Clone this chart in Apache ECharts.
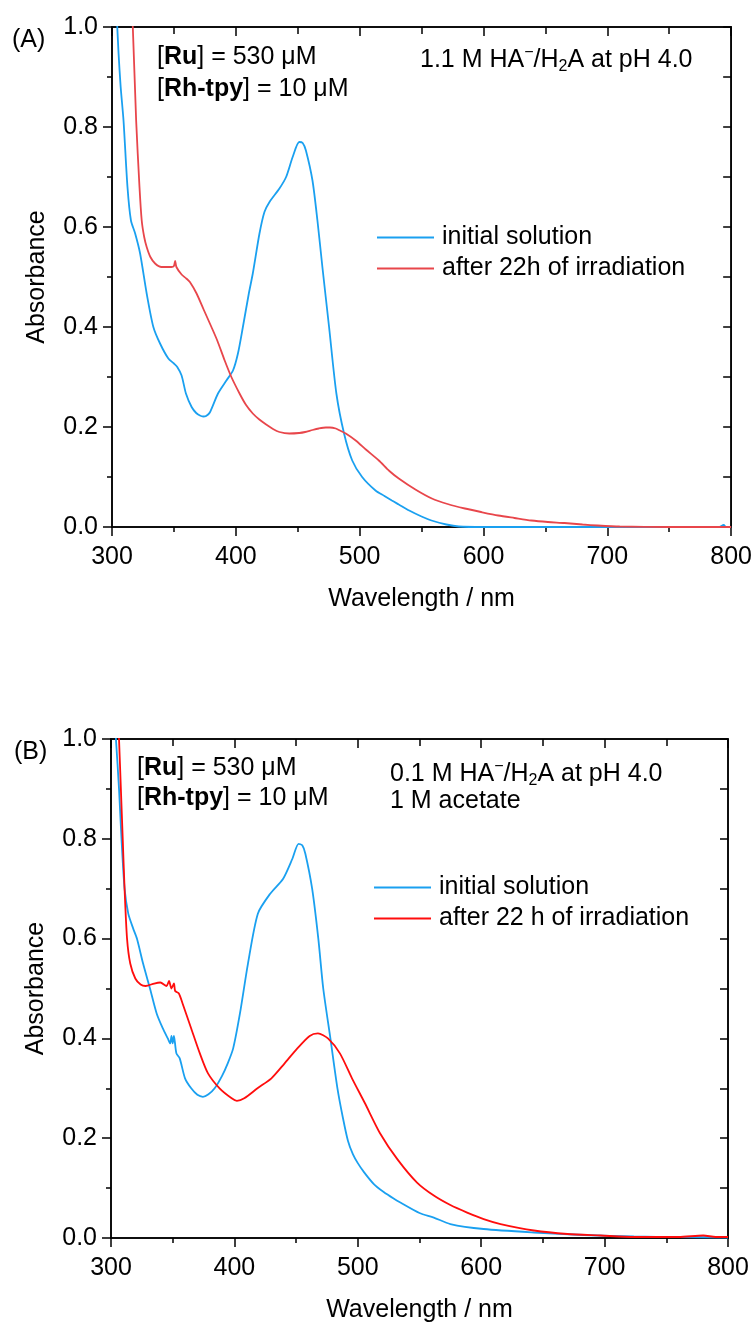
<!DOCTYPE html>
<html>
<head>
<meta charset="utf-8">
<script src="https://cdn.jsdelivr.net/npm/echarts@6/dist/echarts.min.js"></script>
<style>
html,body{margin:0;padding:0;background:#fff;}
#chart{width:755px;height:1324px;}
</style>
</head>
<body>
<div id="chart"></div>
<script>
// ---------- DATA ----------
const xTicks = [300, 400, 500, 600, 700, 800];
const yTicks = [0.0, 0.2, 0.4, 0.6, 0.8, 1.0];

// Panel A: initial solution
const aInitWl = [303.5,305.3,307,309.3,312.5,315.3,318.7,322.7,328,333.4,338.8,345.5,350,352.7,356.2,359.7,364.3,368,371,373.6,376,379,385.6,392.4,397.7,401.7,405.7,410.5,413.7,419.1,423.1,427.2,435.2,440.6,445.9,451.2,454,456.6,461.9,465.9,469.9,475.3,481.2,487.4,494,502,512.8,520,526,531.6,540,550,558,570,580,600,650,700,750,790,794,796,800];
const aInitAbs = [1.04,0.947,0.88,0.813,0.68,0.613,0.587,0.547,0.467,0.40,0.367,0.337,0.327,0.32,0.303,0.267,0.24,0.228,0.223,0.221,0.222,0.229,0.267,0.293,0.313,0.347,0.40,0.467,0.507,0.587,0.630,0.650,0.677,0.70,0.74,0.77,0.768,0.753,0.693,0.613,0.52,0.40,0.267,0.187,0.133,0.10,0.073,0.062,0.053,0.045,0.033,0.021,0.013,0.005,0.001,0.0,0.0,0.0,0.0,0.0,0.004,0.0,0.0];

// Panel A: after 22h of irradiation
const aIrrWl = [315.5,316.8,319.5,322.2,324,326,328,331,334.8,340,345,348,350,351,352,356.2,360,362.9,368.3,374,380.3,385,391,396.4,403,408,413.7,419,424.5,430,435.2,443.2,451.2,456,461.9,467,472.7,476,480.7,484,488.8,496.8,505,515.5,524,531.6,545,558.3,571,585,598,611.9,625,638.6,652,665.4,680,692.3,710,750,800];
const aIrrAbs = [1.05,1.0,0.813,0.68,0.613,0.58,0.56,0.54,0.527,0.52,0.52,0.52,0.522,0.532,0.52,0.505,0.497,0.49,0.467,0.435,0.40,0.373,0.333,0.30,0.267,0.245,0.227,0.215,0.205,0.196,0.19,0.187,0.188,0.19,0.194,0.197,0.199,0.199,0.197,0.193,0.187,0.173,0.155,0.133,0.112,0.097,0.075,0.057,0.046,0.037,0.03,0.023,0.018,0.013,0.01,0.008,0.005,0.003,0.001,0.0,0.0];

// Panel B: initial solution
const bInitWl = [302.5,304,306.5,308.5,311,314,318,321,326,331.6,337,342,346,348,349,350,351,353,355.7,360,365,370,374.5,379,384,390,394.6,399,404.5,411,419,429,439.5,447,452,455,457.5,463,468,472,477.8,483.5,488,492,496,500,505,513,521,529,534.5,550,561.6,575,602,642.7,683,723.7,760,800];
const bInitAbs = [1.05,1.0,0.9,0.8,0.7,0.65,0.62,0.6,0.55,0.5,0.45,0.42,0.40,0.39,0.405,0.39,0.405,0.37,0.36,0.32,0.30,0.287,0.283,0.288,0.30,0.325,0.35,0.38,0.45,0.55,0.65,0.69,0.72,0.76,0.79,0.787,0.77,0.70,0.60,0.50,0.40,0.30,0.24,0.195,0.168,0.15,0.132,0.108,0.092,0.079,0.071,0.05,0.041,0.028,0.018,0.011,0.006,0.003,0.002,0.001];

// Panel B: after 22 h of irradiation
const bIrrWl = [305.5,306.5,308,309.5,311,313,315.6,319.7,324,328,335,340,345,347,349,351,352,355,358,365,372,378.6,388,397.8,402,408,418.7,430,440.7,451,461,467.7,475.8,485.5,495.3,505.8,518,532,548,561.6,575,588.6,602,615.7,642.7,669.8,696.8,723.9,760,780,790,800];
const bIrrAbs = [1.05,1.0,0.9,0.8,0.7,0.6,0.55,0.52,0.508,0.505,0.51,0.512,0.505,0.515,0.5,0.51,0.495,0.49,0.47,0.42,0.37,0.33,0.30,0.28,0.275,0.28,0.30,0.32,0.35,0.38,0.405,0.41,0.40,0.37,0.32,0.27,0.21,0.158,0.111,0.085,0.066,0.051,0.038,0.028,0.015,0.008,0.005,0.002,0.002,0.005,0.002,0.002];

// ---------- CHART ----------
const FONT = '"Liberation Sans", Arial, Helvetica, sans-serif';
const FS = 25;
const zip = (a, b) => a.map((v, i) => [v, b[i]]);
const BLUE = '#1aa0f0', REDA = '#e8464b', REDB = '#ff0d0d';
const AX = { color: '#000', width: 1.5 };

function xAxes(gi) {
  return [
    { gridIndex: gi, type: 'value', min: 300, max: 800, interval: 100, position: 'bottom',
      axisLine: { show: true, onZero: false, lineStyle: AX },
      axisTick: { show: true, length: 9, lineStyle: AX },
      minorTick: { show: true, splitNumber: 2, length: 5, lineStyle: AX },
      axisLabel: { show: true, fontFamily: FONT, fontSize: FS, color: '#000', margin: 18 },
      splitLine: { show: false },
      name: 'Wavelength / nm', nameLocation: 'middle', nameGap: 60,
      nameTextStyle: { fontFamily: FONT, fontSize: FS, color: '#000' } },
    { gridIndex: gi, type: 'value', min: 300, max: 800, interval: 100, position: 'top',
      axisLine: { show: true, onZero: false, lineStyle: AX },
      axisTick: { show: true, inside: true, length: 9, lineStyle: AX },
      minorTick: { show: true, splitNumber: 2, length: 7, lineStyle: AX },
      axisLabel: { show: false }, splitLine: { show: false } }
  ];
}
function yAxes(gi) {
  return [
    { gridIndex: gi, type: 'value', min: 0, max: 1, interval: 0.2, position: 'left',
      axisLine: { show: true, onZero: false, lineStyle: AX },
      axisTick: { show: true, length: 9, lineStyle: AX },
      minorTick: { show: true, splitNumber: 2, length: 5, lineStyle: AX },
      axisLabel: { show: true, fontFamily: FONT, fontSize: FS, color: '#000', margin: 14,
        formatter: v => v.toFixed(1) },
      splitLine: { show: false },
      name: 'Absorbance', nameLocation: 'middle', nameGap: 62, nameRotate: 90,
      nameTextStyle: { fontFamily: FONT, fontSize: FS, color: '#000' } },
    { gridIndex: gi, type: 'value', min: 0, max: 1, interval: 0.2, position: 'right',
      axisLine: { show: true, onZero: false, lineStyle: AX },
      axisTick: { show: true, inside: true, length: 8, lineStyle: AX },
      minorTick: { show: true, splitNumber: 2, length: 8, lineStyle: AX },
      axisLabel: { show: false }, splitLine: { show: false } }
  ];
}
function line(name, data, color, xi, yi) {
  return { name, type: 'line', xAxisIndex: xi, yAxisIndex: yi, data, symbol: 'none',
    smooth: 0.25, clip: true, lineStyle: { color, width: 1.8 }, itemStyle: { color },
    silent: true, animation: false };
}
const rich = {
  b: { fontFamily: FONT, fontSize: FS, fontWeight: 'bold', color: '#000', lineHeight: 30 },
  n: { fontFamily: FONT, fontSize: FS, color: '#000', lineHeight: 30 },
  sup: { fontFamily: FONT, fontSize: 16, color: '#000', lineHeight: 16, verticalAlign: 'top' },
  sub: { fontFamily: FONT, fontSize: 16, color: '#000', lineHeight: 16, verticalAlign: 'bottom' }
};
function txt(x, y, text) {
  return { type: 'text', left: x, top: y, style: { text, rich, font: FS + 'px ' + FONT, fill: '#000' } };
}
function legendAt(left, top, names) {
  return { show: true, orient: 'vertical', left, top, itemWidth: 57, itemHeight: 2, itemGap: 6,
    icon: 'rect', data: names, selectedMode: false,
    textStyle: { fontFamily: FONT, fontSize: FS, color: '#000', padding: [0, 0, 0, 3] } };
}
const GRIDSTYLE = { show: true, borderColor: '#000', borderWidth: 1.5, backgroundColor: 'transparent' };

const chart = echarts.init(document.getElementById('chart'), null, { renderer: 'canvas' });
chart.setOption({
  animation: false,
  backgroundColor: '#fff',
  grid: [
    Object.assign({ left: 112, top: 27, width: 620, height: 500 }, GRIDSTYLE),
    Object.assign({ left: 111, top: 739, width: 617, height: 500 }, GRIDSTYLE)
  ],
  xAxis: [...xAxes(0), ...xAxes(1)],
  yAxis: [...yAxes(0), ...yAxes(1)],
  legend: [
    legendAt(372, 220, ['initial solution', 'after 22h of irradiation']),
    legendAt(369, 870, ['initial solution ', 'after 22 h of irradiation'])
  ],
  series: [
    line('initial solution', zip(aInitWl, aInitAbs), BLUE, 0, 0),
    line('after 22h of irradiation', zip(aIrrWl, aIrrAbs), REDA, 0, 0),
    line('initial solution ', zip(bInitWl, bInitAbs), BLUE, 2, 2),
    line('after 22 h of irradiation', zip(bIrrWl, bIrrAbs), REDB, 2, 2)
  ],
  graphic: [
    txt(12, 28, '{n|(A)}'),
    txt(157, 45, '{n|[}{b|Ru}{n|] = 530 μM}'),
    txt(157, 77, '{n|[}{b|Rh-tpy}{n|] = 10 μM}'),
    txt(420, 45, '{n|1.1 M HA}{sup|−}{n|/H}{sub|2}{n|A at pH 4.0}'),
    txt(14, 740, '{n|(B)}'),
    txt(137, 756, '{n|[}{b|Ru}{n|] = 530 μM}'),
    txt(137, 786, '{n|[}{b|Rh-tpy}{n|] = 10 μM}'),
    txt(390, 759, '{n|0.1 M HA}{sup|−}{n|/H}{sub|2}{n|A at pH 4.0}'),
    txt(390, 789, '{n|1 M acetate}')
  ]
});
</script>
</body>
</html>
